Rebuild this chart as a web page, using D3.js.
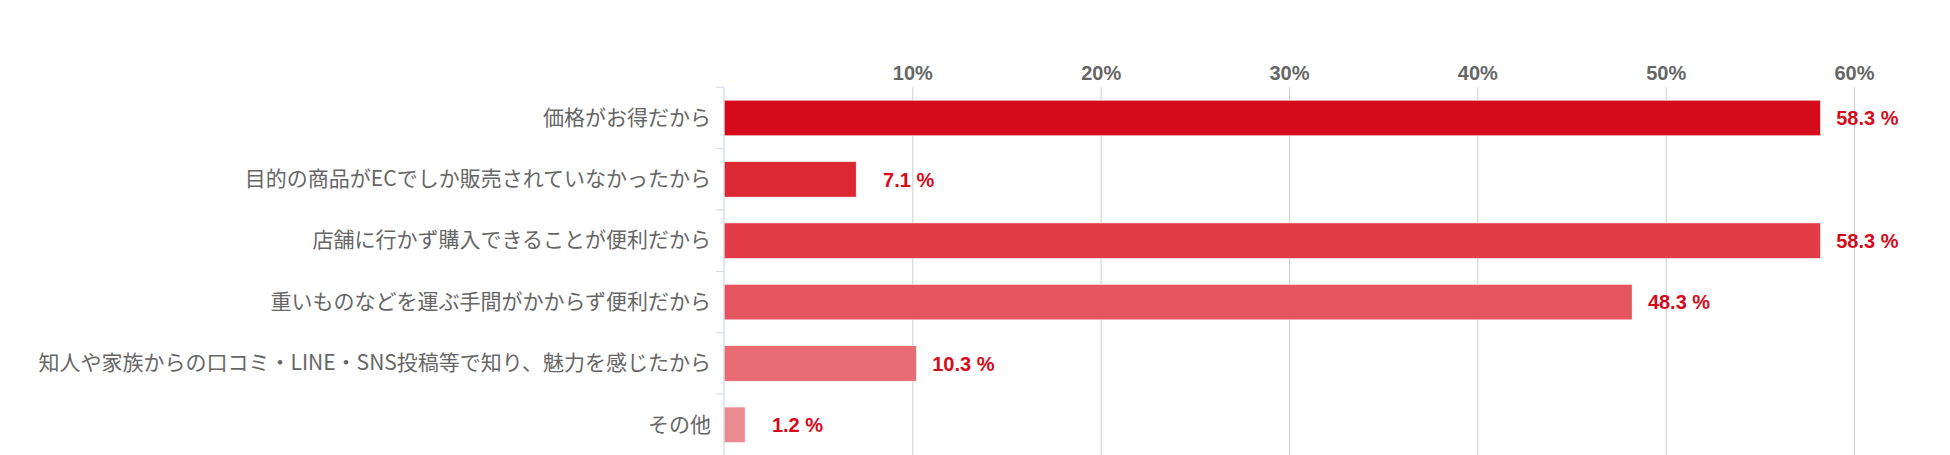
<!DOCTYPE html>
<html>
<head>
<meta charset="utf-8">
<script src="https://cdn.jsdelivr.net/npm/d3@7"></script>
<style>
  html, body { margin: 0; padding: 0; background: #ffffff; }
  svg { display: block; }
</style>
</head>
<body>
<svg id="chart" width="1950" height="455"></svg>
<script>
const categories = [
  "価格がお得だから",
  "目的の商品がECでしか販売されていなかったから",
  "店舗に行かず購入できることが便利だから",
  "重いものなどを運ぶ手間がかからず便利だから",
  "知人や家族からの口コミ・LINE・SNS投稿等で知り、魅力を感じたから",
  "その他"
];
const values = [58.3, 7.1, 58.3, 48.3, 10.3, 1.2];
const tickValues = [10, 20, 30, 40, 50, 60];
const tickLabels = ["10%", "20%", "30%", "40%", "50%", "60%"];
const barColors = ["#d50b1b", "#dc2832", "#e03b46", "#e4555f", "#e86c74", "#ec8a91"];

const svg = d3.select("#chart");
const plotLeft = 724, plotRight = 1854, plotTop = 87.3, plotBottom = 455.5;

const x = d3.scaleLinear().domain([0, 60]).range([plotLeft, plotRight]);
const y = d3.scaleBand().domain(categories).range([plotTop, plotBottom])
  .paddingInner(0.42).paddingOuter(0.21);

// top axis with gridlines
const xAxis = d3.axisTop(x)
  .tickValues(tickValues)
  .tickFormat((d, i) => tickLabels[i])
  .tickSize(-(plotBottom - plotTop))
  .tickPadding(7);

const gx = svg.append("g")
  .attr("transform", `translate(0,${plotTop})`)
  .call(xAxis);
gx.select(".domain").remove();
gx.selectAll(".tick line").attr("stroke", "#cccccc").attr("stroke-width", 1);
gx.selectAll(".tick text")
  .attr("fill", "#666666")
  .style("font-family", "'Liberation Sans', Arial, sans-serif")
  .style("font-weight", "bold")
  .style("font-size", "20px");

// category axis
const yAxis = d3.axisLeft(y).tickSize(0).tickPadding(13);
const gy = svg.append("g")
  .attr("transform", `translate(${plotLeft},0)`)
  .call(yAxis);
gy.select(".domain").remove();
gy.selectAll(".tick text")
  .attr("fill", "#666666")
  .style("font-family", "'Noto Sans CJK JP', 'Noto Sans', sans-serif")
  .style("font-size", "21px");

// bars
svg.append("g").selectAll("rect")
  .data(categories)
  .join("rect")
  .attr("x", x(0))
  .attr("y", d => y(d))
  .attr("width", (d, i) => x(values[i]) - x(0) - 1.5)
  .attr("height", y.bandwidth())
  .attr("fill", (d, i) => barColors[i])
  .attr("stroke", "#ffffff")
  .attr("stroke-width", 0.6);

// axis line and category tick marks
const boundaries = categories.map(c => y(c) - y.step() * y.paddingInner() / 2)
  .concat([plotBottom]);
boundaries[0] = plotTop;
svg.append("g").selectAll("line")
  .data(boundaries)
  .join("line")
  .attr("x1", plotLeft - 8).attr("x2", plotLeft)
  .attr("y1", d => d).attr("y2", d => d)
  .attr("stroke", "#ccd6eb").attr("stroke-width", 1);
svg.append("line")
  .attr("x1", plotLeft).attr("x2", plotLeft)
  .attr("y1", plotTop).attr("y2", plotBottom)
  .attr("stroke", "#ccd6eb").attr("stroke-width", 1.2);

// value labels (right-aligned in a fixed-width box after the bar end)
svg.append("g").selectAll("text")
  .data(categories)
  .join("text")
  .attr("x", (d, i) => x(values[i]) + 76.5)
  .attr("y", d => y(d) + y.bandwidth() / 2)
  .attr("dy", "0.36em")
  .attr("text-anchor", "end")
  .attr("fill", "#d50b1b")
  .style("font-family", "'Liberation Sans', Arial, sans-serif")
  .style("font-weight", "bold")
  .style("font-size", "20px")
  .text((d, i) => values[i].toFixed(1) + " %");
</script>
</body>
</html>
